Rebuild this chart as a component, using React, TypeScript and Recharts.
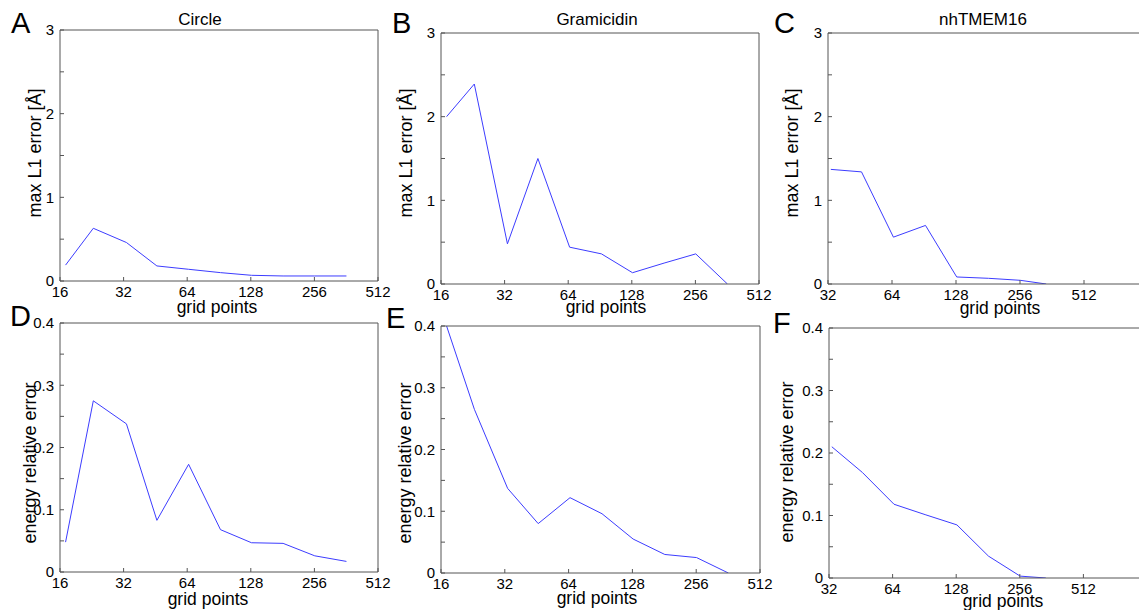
import React from 'react';
import { LineChart, Line, XAxis, YAxis } from 'recharts';

// grid sizes (x)
const gridSmall = [17, 23, 33, 46, 65, 92, 129, 182, 257, 363];
const gridLarge = [33, 46, 65, 92, 129, 182, 257, 340];

// max L1 error [Å]
const circleL1 = [0.19, 0.63, 0.46, 0.18, 0.14, 0.1, 0.068, 0.06, 0.06, 0.06];
const gramicidinL1 = [2.0, 2.39, 0.48, 1.5, 0.44, 0.36, 0.135, 0.25, 0.36, 0];
const tmemL1 = [1.37, 1.34, 0.56, 0.7, 0.084, 0.068, 0.044, 0];

// energy relative error
const circleEnergy = [0.048, 0.275, 0.238, 0.083, 0.173, 0.068, 0.047, 0.046, 0.026, 0.017];
const gramicidinEnergy = [0.4, 0.265, 0.137, 0.08, 0.122, 0.096, 0.055, 0.03, 0.025, 0];
const tmemEnergy = [0.21, 0.169, 0.118, 0.101, 0.085, 0.035, 0.003, 0];

const xTicksSmall = [16, 32, 64, 128, 256, 512];
const xTicksLarge = [32, 64, 128, 256, 512];
const l1Ticks = [0, 0.5, 1, 1.5, 2, 2.5, 3];
const l1Labels = [0, 1, 2, 3];
const energyTicks = [0, 0.05, 0.1, 0.15, 0.2, 0.25, 0.3, 0.35, 0.4];
const energyLabels = [0, 0.1, 0.2, 0.3, 0.4];

const FONT = '"Liberation Sans", Arial, Helvetica, sans-serif';
const AXIS = '#555';
const BLUE = '#3c3cff';

type Box = { l: number; t: number; w: number; h: number };

const toRows = (xs: number[], ys: number[]) => xs.map((n, i) => ({ n, v: ys[i] }));

const Panel: React.FC<{
  data: { n: number; v: number }[];
  box: Box;
  xDomain: [number, number];
  xTicks: number[];
  yDomain: [number, number];
  yTicks: number[];
  yLabels: number[];
}> = ({ data, box, xDomain, xTicks, yDomain, yTicks, yLabels }) => {
  const tickStyle = { fill: '#000', fontSize: 15, fontFamily: FONT };
  const fmtY = (v: number) => (yLabels.includes(v) ? String(v) : '');
  // the top / right axes only draw the box edge and the inward ticks
  return (
    <div style={{ position: 'absolute', left: box.l - 50, top: box.t - 10 }}>
      <LineChart
        width={box.w + 70}
        height={box.h + 40}
        data={data}
        margin={{ top: 9, right: 19, bottom: 0, left: 0 }}
      >
        <XAxis
          dataKey="n"
          type="number"
          scale="log"
          domain={xDomain}
          ticks={xTicks}
          interval={0}
          allowDataOverflow
          height={30}
          tickSize={-4}
          tickMargin={9}
          tick={tickStyle}
          axisLine={{ stroke: AXIS }}
          tickLine={{ stroke: AXIS }}
        />
        <XAxis
          xAxisId="top"
          orientation="top"
          dataKey="n"
          type="number"
          scale="log"
          domain={xDomain}
          ticks={xTicks}
          interval={0}
          allowDataOverflow
          height={1}
          tickSize={-4}
          tick={false}
          axisLine={{ stroke: AXIS }}
          tickLine={{ stroke: AXIS }}
        />
        <YAxis
          type="number"
          domain={yDomain}
          ticks={yTicks}
          interval={0}
          allowDataOverflow
          width={50}
          tickSize={-4}
          tickMargin={10}
          tickFormatter={fmtY}
          tick={tickStyle}
          axisLine={{ stroke: AXIS }}
          tickLine={{ stroke: AXIS }}
        />
        <YAxis
          yAxisId="right"
          orientation="right"
          type="number"
          domain={yDomain}
          ticks={yTicks}
          interval={0}
          allowDataOverflow
          width={1}
          tickSize={-4}
          tick={false}
          axisLine={{ stroke: AXIS }}
          tickLine={{ stroke: AXIS }}
        />
        <Line dataKey="v" stroke={BLUE} strokeWidth={1} dot={false} activeDot={false} isAnimationActive={false} />
      </LineChart>
    </div>
  );
};

const App: React.FC = () => {
  const l1Label = 'max L1 error [Å]';
  const enLabel = 'energy relative error';
  return (
    <div
      style={{
        position: 'absolute',
        left: 0,
        top: 0,
        width: 1139,
        height: 610,
        overflow: 'hidden',
        background: '#fff',
        fontFamily: FONT,
      }}
    >
      <Panel data={toRows(gridSmall, circleL1)} box={{ l: 60, t: 30, w: 318, h: 251 }} xDomain={[16, 512]} xTicks={xTicksSmall} yDomain={[0, 3]} yTicks={l1Ticks} yLabels={l1Labels} />
      <Panel data={toRows(gridSmall, gramicidinL1)} box={{ l: 441, t: 33, w: 318, h: 251 }} xDomain={[16, 512]} xTicks={xTicksSmall} yDomain={[0, 3]} yTicks={l1Ticks} yLabels={l1Labels} />
      <Panel data={toRows(gridLarge, tmemL1)} box={{ l: 828, t: 33, w: 320, h: 251 }} xDomain={[32, 1024]} xTicks={xTicksLarge} yDomain={[0, 3]} yTicks={l1Ticks} yLabels={l1Labels} />
      <Panel data={toRows(gridSmall, circleEnergy)} box={{ l: 60, t: 323, w: 318, h: 249 }} xDomain={[16, 512]} xTicks={xTicksSmall} yDomain={[0, 0.4]} yTicks={energyTicks} yLabels={energyLabels} />
      <Panel data={toRows(gridSmall, gramicidinEnergy)} box={{ l: 441, t: 326, w: 319, h: 247 }} xDomain={[16, 512]} xTicks={xTicksSmall} yDomain={[0, 0.4]} yTicks={energyTicks} yLabels={energyLabels} />
      <Panel data={toRows(gridLarge, tmemEnergy)} box={{ l: 829, t: 328, w: 318, h: 250 }} xDomain={[32, 1024]} xTicks={xTicksLarge} yDomain={[0, 0.4]} yTicks={energyTicks} yLabels={energyLabels} />

      <svg width={1139} height={610} style={{ position: 'absolute', left: 0, top: 0, pointerEvents: 'none' }}>
        <g fontFamily={FONT} fill="#000">
          {/* panel letters */}
          <text x={11} y={33} fontSize={29}>A</text>
          <text x={392} y={33} fontSize={29}>B</text>
          <text x={774} y={33} fontSize={29}>C</text>
          <text x={10} y={326} fontSize={29}>D</text>
          <text x={386} y={328} fontSize={29}>E</text>
          <text x={773} y={333} fontSize={29}>F</text>

          {/* titles */}
          <text x={200} y={25} fontSize={17} textAnchor="middle">Circle</text>
          <text x={597} y={25} fontSize={17} textAnchor="middle">Gramicidin</text>
          <text x={983} y={25} fontSize={17} textAnchor="middle">nhTMEM16</text>

          {/* x labels */}
          <text x={217} y={313} fontSize={17.5} textAnchor="middle">grid points</text>
          <text x={606} y={313} fontSize={17.5} textAnchor="middle">grid points</text>
          <text x={1000} y={314} fontSize={17.5} textAnchor="middle">grid points</text>
          <text x={208} y={605} fontSize={17.5} textAnchor="middle">grid points</text>
          <text x={597} y={604} fontSize={17.5} textAnchor="middle">grid points</text>
          <text x={1003} y={607} fontSize={17.5} textAnchor="middle">grid points</text>

          {/* y labels */}
          <text x={41} y={153} fontSize={18} textAnchor="middle" transform="rotate(-90 41 153)">{l1Label}</text>
          <text x={412} y={153} fontSize={18} textAnchor="middle" transform="rotate(-90 412 153)">{l1Label}</text>
          <text x={798} y={153} fontSize={18} textAnchor="middle" transform="rotate(-90 798 153)">{l1Label}</text>
          <text x={36} y={463} fontSize={18} textAnchor="middle" transform="rotate(-90 36 463)">{enLabel}</text>
          <text x={411} y={463} fontSize={18} textAnchor="middle" transform="rotate(-90 411 463)">{enLabel}</text>
          <text x={793} y={462} fontSize={18} textAnchor="middle" transform="rotate(-90 793 462)">{enLabel}</text>
        </g>
      </svg>
    </div>
  );
};

export default App;
